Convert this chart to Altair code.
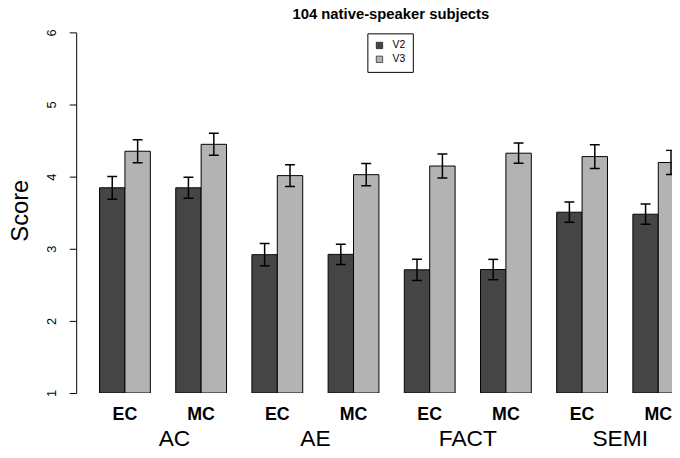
import altair as alt
import pandas as pd

# ---- data ----
groups = ["AC", "AE", "FACT", "SEMI"]
conditions = ["EC", "MC"]
series = ["V2", "V3"]
v2_mean = [3.845, 3.845, 2.918, 2.922, 2.708, 2.712, 3.507, 3.479]
v3_mean = [4.352, 4.448, 4.014, 4.027, 4.147, 4.325, 4.278, 4.196]
v2_se = [0.157, 0.145, 0.155, 0.140, 0.147, 0.141, 0.141, 0.140]
v3_se = [0.160, 0.153, 0.150, 0.155, 0.167, 0.140, 0.164, 0.168]
y_ticks = [1, 2, 3, 4, 5, 6]
group_label_pos = [3.95, 9.5, 15.5, 21.5]
title_text = "104 native-speaker subjects"
colors = ["#454545", "#b3b3b3"]

# ---- build tables (R barplot layout: bar width 1, space 1 between groups) ----
rows = []
for k in range(len(v2_mean)):
    g = groups[k // 2]
    c = conditions[k % 2]
    for s_i, (means, ses) in enumerate([(v2_mean, v2_se), (v3_mean, v3_se)]):
        left = 1 + 3 * k + s_i
        rows.append(dict(group=g, cond=c, series=series[s_i],
                         x0=left, x1=left + 1, xc=left + 0.5,
                         cap0=left + 0.305, cap1=left + 0.695,
                         mean=means[k], lo=means[k] - ses[k], hi=means[k] + ses[k],
                         base=1))
df = pd.DataFrame(rows)

cond_df = pd.DataFrame({"x": [2 + 3 * k for k in range(8)],
                        "label": [conditions[k % 2] for k in range(8)]})
group_df = pd.DataFrame({"x": group_label_pos, "label": groups})

xs = alt.Scale(domain=[0.08, 23.54], nice=False, zero=False)
ys = alt.Scale(domain=[1, 6], nice=False, zero=False)

yaxis = alt.Axis(
    values=y_ticks, title="Score", grid=False,
    tickSize=7, tickColor="black", tickWidth=1,
    domainColor="black", domainWidth=1,
    labelAngle=270, labelAlign="center", labelBaseline="bottom",
    labelPadding=11, labelFontSize=13, labelColor="black",
    labelFont="Liberation Sans",
    titleFont="Liberation Sans", titleFontSize=24, titleFontWeight="normal",
    titleColor="black", titleAngle=270, titleX=-56, titleY=180,
    titleAlign="center", titleBaseline="middle")

bars = alt.Chart(df).mark_bar(stroke="black", strokeWidth=1, clip=True).encode(
    x=alt.X("x0:Q", scale=xs, axis=None),
    x2="x1:Q",
    y=alt.Y("mean:Q", scale=ys, axis=yaxis),
    y2="base:Q",
    color=alt.Color("series:N", scale=alt.Scale(domain=series, range=colors),
                    legend=alt.Legend(
                        title=None, orient="none", legendX=294.7, legendY=1,
                        strokeColor="black", fillColor="white", padding=7,
                        cornerRadius=0, symbolType="square", symbolSize=42,
                        symbolStrokeColor="black", symbolStrokeWidth=0.6,
                        symbolOpacity=1,
                        labelFontSize=10.5, labelOffset=8, rowPadding=3,
                        labelFont="Liberation Sans", labelColor="black")),
)

err = alt.Chart(df).mark_rule(color="black", strokeWidth=1.5, clip=True).encode(
    x=alt.X("xc:Q", scale=xs, axis=None),
    y=alt.Y("lo:Q", scale=ys, axis=yaxis),
    y2="hi:Q",
)
cap_hi = alt.Chart(df).mark_rule(color="black", strokeWidth=1.5, clip=True).encode(
    x=alt.X("cap0:Q", scale=xs, axis=None),
    x2="cap1:Q",
    y=alt.Y("hi:Q", scale=ys, axis=yaxis),
)
cap_lo = alt.Chart(df).mark_rule(color="black", strokeWidth=1.5, clip=True).encode(
    x=alt.X("cap0:Q", scale=xs, axis=None),
    x2="cap1:Q",
    y=alt.Y("lo:Q", scale=ys, axis=yaxis),
)

cond_text = alt.Chart(cond_df).mark_text(
    font="Liberation Sans", fontSize=18, fontWeight="bold", color="black",
    baseline="alphabetic", align="center").encode(
    x=alt.X("x:Q", scale=xs, axis=None),
    y=alt.value(392),
    text="label:N",
)
group_text = alt.Chart(group_df).mark_text(
    font="Liberation Sans", fontSize=23, fontWeight="normal", color="black",
    baseline="alphabetic", align="center").encode(
    x=alt.X("x:Q", scale=xs, axis=None),
    y=alt.value(419),
    text="label:N",
)

chart = alt.layer(bars, err, cap_hi, cap_lo, cond_text, group_text).properties(
    width=603, height=365,
    autosize=alt.AutoSizeParams(type="none"),
    padding={"left": 69, "top": 22, "right": 0, "bottom": 55},
    title=alt.Title(title_text, fontSize=15, fontWeight="bold",
                    font="Liberation Sans", anchor="middle", dx=17,
                    offset=-5, baseline="alphabetic", color="black"),
).configure(background="white").configure_view(stroke=None)

chart.save("out.html", embed_options={"renderer": "svg", "actions": False})
